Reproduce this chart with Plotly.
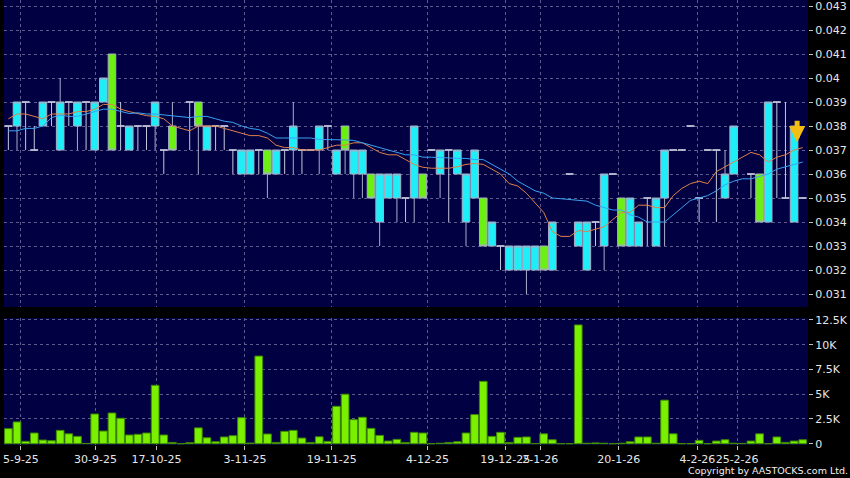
import plotly.graph_objects as go

# ---------------- data (one entry per trading bar, bar index 1..93) ----------------
bars = list(range(1, 94))

opens = [
    .038, .038, .039, .037, .038, .039, .037, .039, .038, .039,
    .037, .039, .041, .038, .037, .038, .038, .038, .037, .038,
    None, .039, .039, .037, .038, .038, .037, .036, .036, .037,
    .037, .036, .037, .037, .037, .037, .037, .038, .036, .038,
    .036, .036, .036, .034, .035, .035, .035, .035, .036, .037,
    .036, .037, .036, .034, .035, .035, .033, .033, .032, .032,
    .032, .032, .033, .032, None, .036, .033, .032, .034, .033,
    .036, .035, .033, .033, .035, .033, .035, .037, .037, .038,
    .035, .037, .037, .035, .036, None, .036, .036, .034, .039,
    .035, .034, .035]
highs = [
    .038, .039, .039, .038, .039, .039, .040, .039, .039, .039,
    .039, .040, .041, .039, .038, .038, .038, .039, .037, .039,
    None, .039, .039, .038, .038, .038, .037, .037, .037, .037,
    .037, .037, .037, .039, .037, .037, .038, .038, .037, .038,
    .037, .037, .036, .036, .036, .036, .035, .038, .036, .037,
    .037, .037, .037, .036, .037, .035, .034, .033, .033, .033,
    .033, .033, .033, .034, None, .036, .034, .034, .034, .036,
    .036, .035, .035, .034, .035, .035, .037, .037, .037, .038,
    .035, .037, .037, .037, .038, None, .036, .036, .039, .039,
    .039, .038, .035]
lows = [
    .037, .037, .037, .037, .038, .038, .037, .038, .037, .037,
    .037, .039, .037, .037, .037, .037, .037, .037, .036, .037,
    None, .037, .036, .037, .037, .037, .036, .036, .036, .036,
    .035, .036, .036, .036, .036, .037, .036, .037, .036, .036,
    .035, .035, .035, .033, .035, .034, .034, .034, .035, .037,
    .035, .034, .036, .033, .035, .033, .033, .032, .032, .032,
    .031, .032, .032, .032, None, .036, .033, .032, .033, .032,
    .036, .033, .033, .033, .033, .033, .033, .037, .037, .038,
    .034, .037, .034, .035, .036, None, .035, .034, .034, .035,
    .035, .034, .035]
closes = [
    .038, .039, .039, .037, .039, .039, .039, .039, .039, .039,
    .039, .040, .037, .038, .038, .038, .038, .039, .037, .037,
    None, .039, .038, .038, .038, .038, .037, .037, .037, .037,
    .036, .037, .037, .038, .037, .037, .038, .038, .037, .037,
    .037, .037, .035, .036, .036, .036, .035, .038, .035, .037,
    .037, .037, .037, .036, .037, .033, .034, .033, .033, .033,
    .033, .033, .032, .034, None, .036, .034, .034, .034, .036,
    .036, .033, .035, .034, .035, .035, .037, .037, .037, .038,
    .035, .037, .037, .036, .038, None, .036, .034, .039, .039,
    .035, .038, .035]

ma_short = [
    .0383, .0385, .0385, .0384, .0383, .0385, .0385, .0385, .0386, .0386,
    .0387, .0389, .0389, .0387, .0386, .0385, .03843, .0384, .0383, .0380,
    .0379, .0378, .0380, .0380, .0380, .0379, .0378, .0377, .0376, .0376,
    .0375, .0372, .0371, .0371, .0370, .0370, .0370, .0371, .0372, .0372,
    .0373, .0373, .0371, .0369, .0368, .0368, .0366, .0364, .03628, .03624,
    .03624, .03624, .0363, .0364, .03644, .0364, .0362, .0360, .0356, .0355,
    .0352, .0348, .0344, .0336, .0334, .0334, .03364, .0336, .0337, .0338,
    .0341, .0344, .0344, .0347, .0347, .0346, .0346, .0351, .0354, .0356,
    .0357, .0356, .0361, .0363, .0365, .0367, .0369, .0368, .0365, .0367,
    .0368, .0370, .0371]
ma_long = [
    .0378, .0378, .0379, .0379, .0380, .03835, .03845, .0384, .0384, .0385,
    .0386, .0387, .0387, .0386, .03852, .03855, .0385, .0385, .03846, .0384,
    .03837, .03835, .0384, .0384, .0383, .0382, .03815, .0380, .0379, .03785,
    .0377, .0375, .0375, .0375, .0375, .0375, .03744, .03744, .03743, .03742,
    .0374, .0373, .0372, .0371, .0370, .0369, .0368, .0368, .0367, .0367,
    .0367, .03667, .03665, .03665, .0366, .0366, .0364, .0362, .0360, .0357,
    .0355, .0353, .0352, .0350, .03497, .03493, .0349, .03487, .0347, .0346,
    .0345, .0345, .0343, .0342, .0340, .0340, .0340, .0343, .0346, .0349,
    .0350, .0351, .0353, .03555, .0357, .0358, .0358, .0359, .0360, .0362,
    .0363, .0364, .0365]

volumes = [
    1520, 2200, 240, 1080, 370, 300, 1350, 1000, 740, 30,
    3000, 1280, 3100, 2570, 880, 950, 1080, 5900, 880, 130,
    0, 100, 1600, 600, 200, 680, 810, 2630, 70, 8850,
    980, 130, 1250, 1350, 570, 130, 700, 240, 3780, 5000,
    2430, 2670, 1550, 840, 270, 440, 130, 1150, 1080, 0,
    50, 130, 200, 1080, 2940, 6300, 740, 1150, 130, 640,
    680, 20, 1000, 400, 0, 0, 12000, 50, 80, 50,
    0, 50, 200, 680, 680, 50, 4400, 1000, 0, 0,
    340, 0, 270, 400, 50, 30, 270, 1000, 0, 680,
    130, 270, 400]

date_labels = ["5-9-25", "30-9-25", "17-10-25", "3-11-25", "19-11-25", "4-12-25",
               "19-12-25", "2-1-26", "20-1-26", "4-2-26", "25-2-26"]
date_pos = [2.45, 11.1, 18.15, 28.4, 38.45, 49.55, 58.55, 62.6, 71.7, 80.8, 85.4]

price_ticks = [0.031, 0.032, 0.033, 0.034, 0.035, 0.036, 0.037, 0.038, 0.039,
               0.040, 0.041, 0.042, 0.043]
vol_ticks = [0, 2500, 5000, 7500, 10000, 12500]
vol_tick_text = ["0", "2.5K", "5K", "7.5K", "10K", "12.5K"]
signal_bar = 92

# ---------------- styling ----------------
BG = "#000000"
PANEL = "#000042"
GRID = "#5c5c8c"
CYAN = "#1eeef8"
GREEN = "#6cf012"
VOLG = "#7af000"
WICK = "#a8aec8"
FONT = dict(family="DejaVu Sans", size=11, color="#e6e6e6")


def subset(cond):
    xs, o, h, l, c = [], [], [], [], []
    for i, b in enumerate(bars):
        if opens[i] is None:
            continue
        if cond(opens[i], closes[i]):
            xs.append(b); o.append(opens[i]); h.append(highs[i]); l.append(lows[i]); c.append(closes[i])
    return xs, o, h, l, c


fig = go.Figure()

for cond, fill, lc in [
    (lambda o, c: c == o, WICK, "#c4c8dc"),
    (lambda o, c: c > o, CYAN, WICK),
    (lambda o, c: c < o, GREEN, WICK),
]:
    xs, o, h, l, c = subset(cond)
    fig.add_trace(go.Candlestick(
        x=xs, open=o, high=h, low=l, close=c,
        xaxis="x", yaxis="y",
        increasing=dict(fillcolor=fill, line=dict(color=lc, width=1)),
        decreasing=dict(fillcolor=fill, line=dict(color=lc, width=1)),
        whiskerwidth=0, showlegend=False, hoverinfo="skip",
    ))

fig.add_trace(go.Scatter(x=bars, y=ma_short, mode="lines", line=dict(color="#e0804a", width=1),
                         xaxis="x", yaxis="y", showlegend=False, hoverinfo="skip"))
fig.add_trace(go.Scatter(x=bars, y=ma_long, mode="lines", line=dict(color="#3aa2f2", width=1),
                         xaxis="x", yaxis="y", showlegend=False, hoverinfo="skip"))

fig.add_trace(go.Bar(x=bars, y=volumes, xaxis="x2", yaxis="y2",
                     marker=dict(color=VOLG, line=dict(color="#3f8a00", width=1)),
                     showlegend=False, hoverinfo="skip"))

xr = [0.494, 93.61]
common_x = dict(range=xr, tickmode="array", tickvals=date_pos, ticktext=date_labels,
                showgrid=True, gridcolor=GRID, griddash="3px,3px", gridwidth=1,
                zeroline=False, showline=False, fixedrange=True, automargin=False,
                tickangle=0, ticklabeloverflow="allow")

sig_i = bars.index(signal_bar)

fig.update_layout(
    template="none",
    width=850, height=478,
    margin=dict(l=4, r=42, t=0, b=33, pad=0),
    paper_bgcolor=BG, plot_bgcolor=PANEL,
    font=FONT,
    boxgap=0.12, boxgroupgap=0,
    bargap=0.11,
    xaxis=dict(**common_x, domain=[0, 1], anchor="y", showticklabels=False,
               rangeslider=dict(visible=False)),
    xaxis2=dict(**common_x, domain=[0, 1], anchor="y2", showticklabels=True,
                ticks="outside", ticklen=4, tickcolor="#c0c0c0", tickfont=FONT),
    yaxis=dict(domain=[0.3101, 1], side="right", range=[0.030458, 0.04325],
               tickmode="array", tickvals=price_ticks,
               ticktext=[f"{v:.3f}".rstrip("0") for v in price_ticks],
               showgrid=True, gridcolor=GRID, griddash="3px,3px", gridwidth=1,
               zeroline=False, showline=False, ticks="outside", ticklen=4,
               tickcolor="#c0c0c0", ticklabelstandoff=0, ticklabeloverflow="allow",
               tickfont=FONT, fixedrange=True, automargin=False),
    yaxis2=dict(domain=[0, 0.2854], side="right", range=[-130, 12700],
                tickmode="array", tickvals=vol_ticks, ticktext=vol_tick_text,
                showgrid=True, gridcolor=GRID, griddash="3px,3px", gridwidth=1,
                zeroline=False, showline=False, ticks="outside", ticklen=4,
                tickcolor="#c0c0c0", ticklabelstandoff=0, ticklabeloverflow="allow",
                tickfont=FONT, fixedrange=True, automargin=False),
    annotations=[
        dict(x=signal_bar + 0.35, y=highs[sig_i] - 0.00068, xref="x", yref="y",
             showarrow=True, ax=0, ay=-23, arrowhead=2, arrowsize=0.65,
             arrowwidth=5, arrowcolor="#f2be14", text=""),
        dict(x=1.0525, y=-0.058, xref="paper", yref="paper", xanchor="right",
             yanchor="middle", showarrow=False, text="Copyright by AASTOCKS.com Ltd.",
             font=dict(family="DejaVu Sans", size=9.5, color="#f0f0f0")),
    ],
)

fig.write_html("out.html",
               config={"displayModeBar": False, "staticPlot": True},
               post_script="document.body.style.margin='0px';document.body.style.background='#000';")
